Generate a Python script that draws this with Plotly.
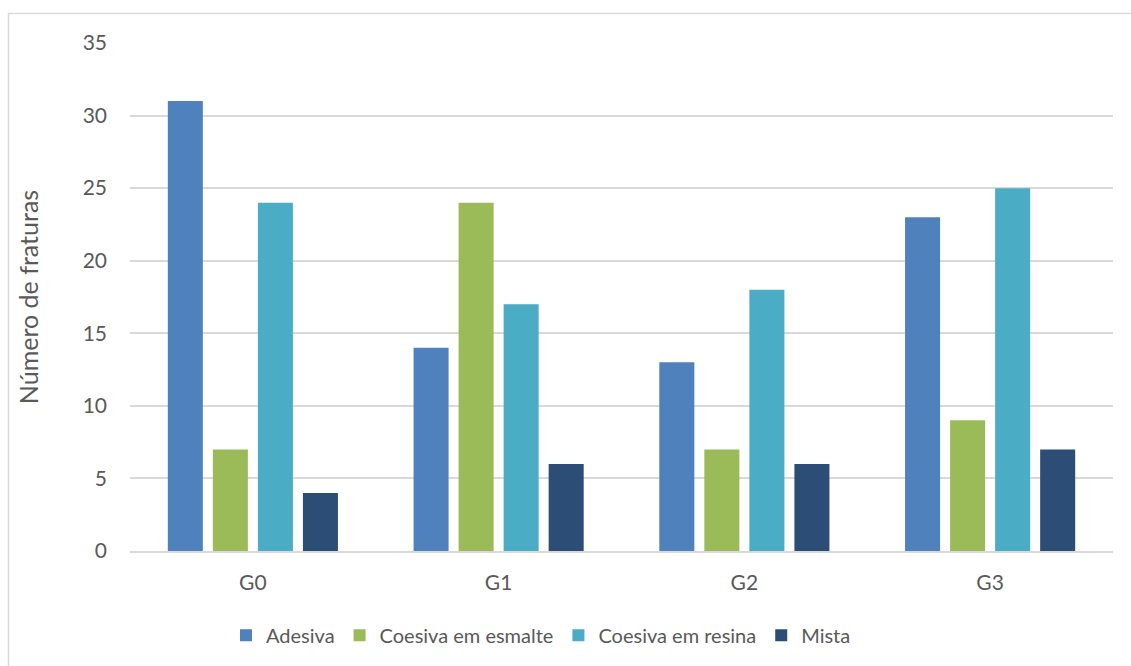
import plotly.graph_objects as go

groups = ["G0", "G1", "G2", "G3"]
series_names = ["Adesiva", "Coesiva em esmalte", "Coesiva em resina", "Mista"]
adesiva = [31, 14, 13, 23]
coesiva_esmalte = [7, 24, 7, 9]
coesiva_resina = [24, 17, 18, 25]
mista = [4, 6, 6, 7]
y_ticks = [0, 5, 10, 15, 20, 25, 30, 35]

colors = ["#4f81bd", "#9bbb59", "#4bacc6", "#2c4d75"]
values = [adesiva, coesiva_esmalte, coesiva_resina, mista]

fig = go.Figure()
for name, vals, c in zip(series_names, values, colors):
    fig.add_trace(go.Bar(x=groups, y=vals, name=name, marker=dict(color=c, line=dict(width=0))))

FONT = "Lato, 'Open Sans', sans-serif"
L, R, T, B = 130, 18, 43, 114
W, H = 1131, 666
pw, ph = W - L - R, H - T - B

fig.update_layout(
    width=W, height=H,
    margin=dict(l=L, r=R, t=T, b=B),
    paper_bgcolor="white", plot_bgcolor="white",
    barmode="group", bargap=0.267, bargroupgap=0.222,
    font=dict(family=FONT, color="#595959", size=20),
    xaxis=dict(showgrid=False, showline=True, linecolor="#d9d9d9", linewidth=1.5,
               ticks="", tickfont=dict(size=21, color="#595959"), ticklabelstandoff=12),
    yaxis=dict(range=[0, 35], tickvals=y_ticks, showgrid=True, gridcolor="#d9d9d9", gridwidth=1.5,
               zeroline=False, showline=False, ticks="", tickfont=dict(size=21, color="#595959"),
               ticklabelstandoff=22,
               title=dict(text="Número de fraturas", font=dict(size=25, color="#595959"), standoff=36)),
    legend=dict(orientation="h", x=(226 - L) / pw, xanchor="left", y=-0.125, yanchor="top",
                font=dict(size=20, color="#595959"), itemwidth=30, tracegroupgap=0,
                traceorder="normal"),
    showlegend=True,
)

# chart border (top/left visible)
fig.add_shape(type="rect", xref="paper", yref="paper",
              x0=(8.5 - L) / pw, x1=(W + 20 - L) / pw,
              y0=-(H + 20 - (T + ph)) / ph, y1=(T + ph - 13.5) / ph,
              line=dict(color="#d9d9d9", width=1.5), fillcolor="rgba(0,0,0,0)", layer="below")

fig.write_html("out.html")
